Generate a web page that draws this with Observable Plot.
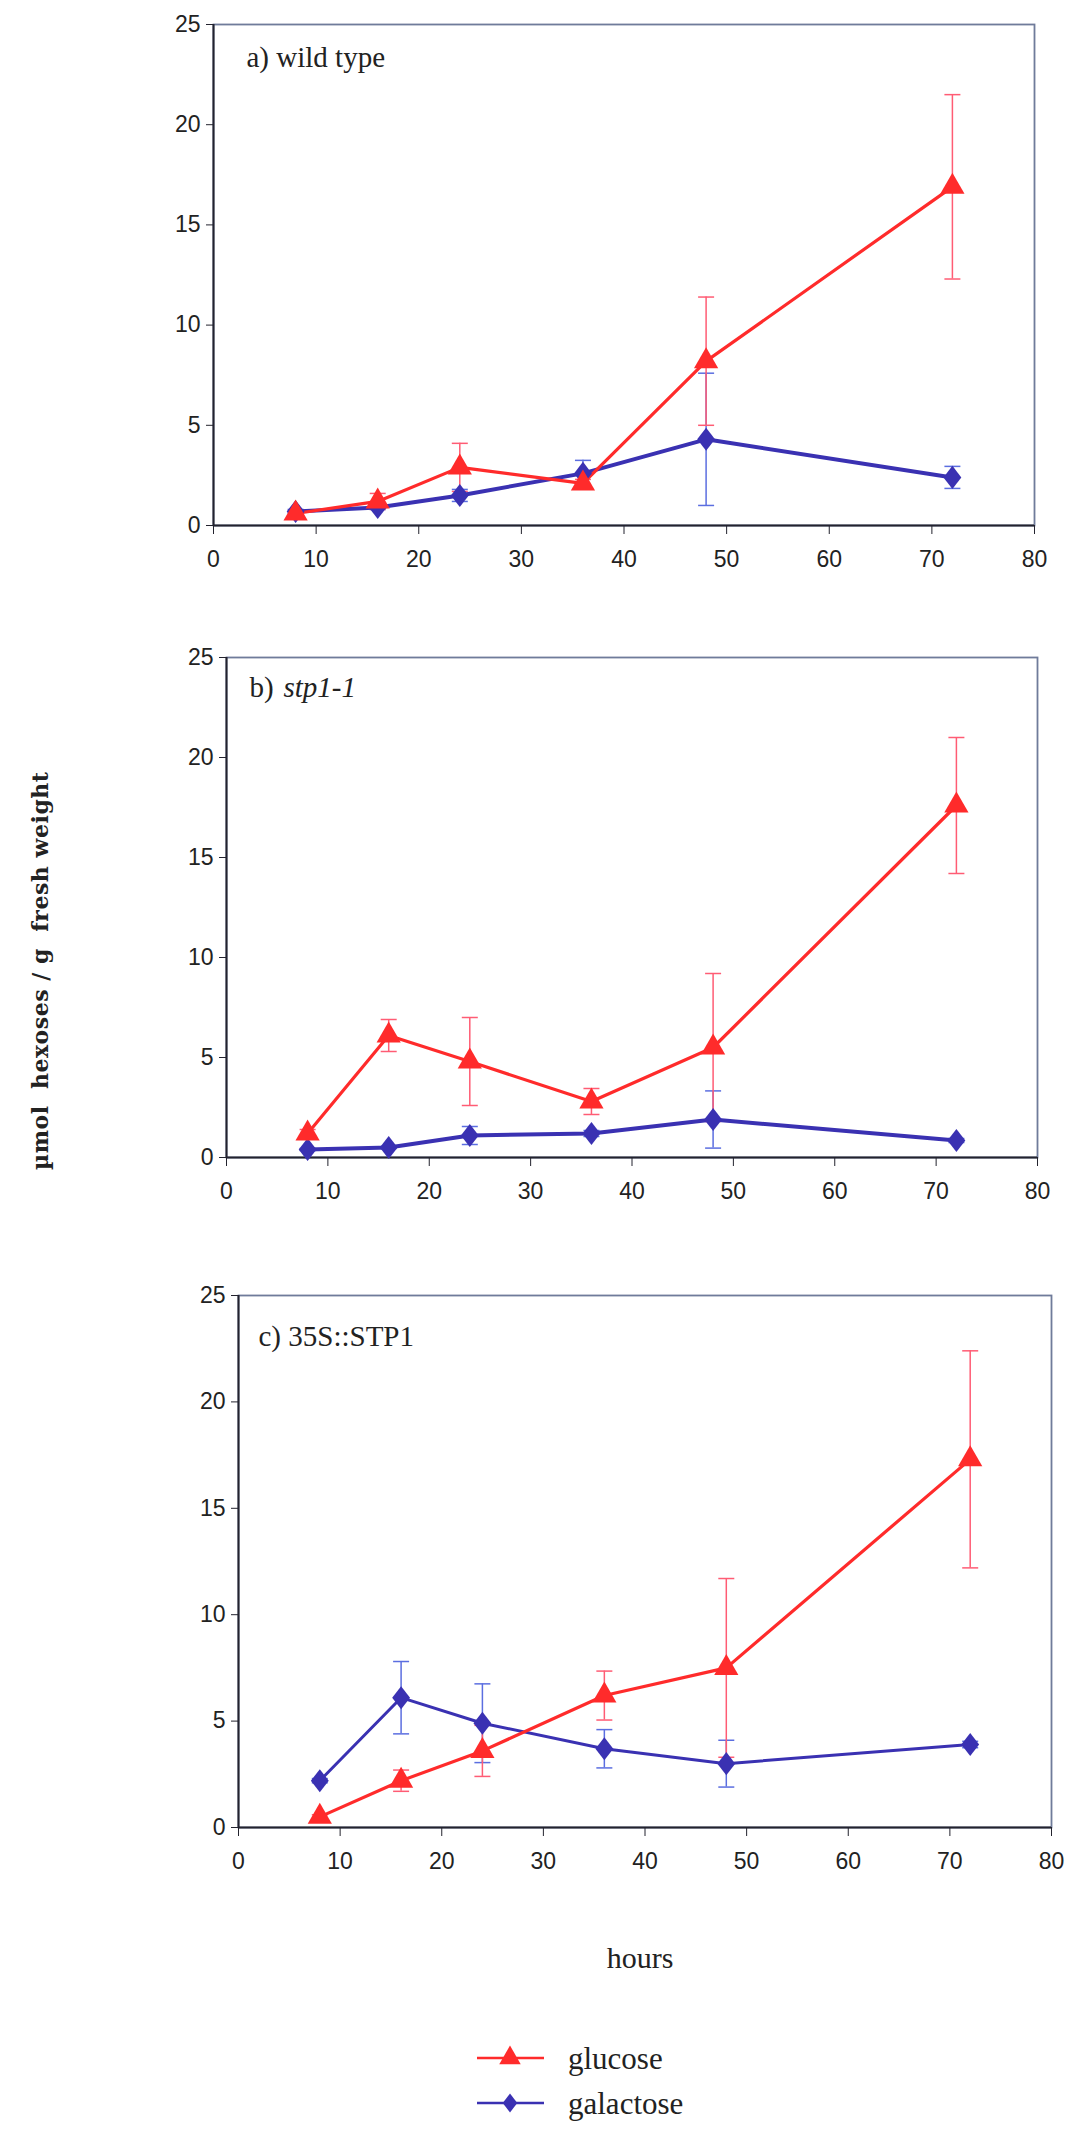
<!DOCTYPE html>
<html><head><meta charset="utf-8">
<script src="https://cdn.jsdelivr.net/npm/d3@7"></script>
<script src="https://cdn.jsdelivr.net/npm/@observablehq/plot@0.6"></script>
<style>
body{margin:0;background:#fff;}
#wrap{position:relative;width:1070px;height:2130px;background:#fff;overflow:hidden;}
#wrap svg.panel{position:absolute;left:0;}
#overlay{position:absolute;left:0;top:0;}
</style>
</head><body>
<div id="wrap"></div>
<script>
// ---- data ----
const hours = [8, 16, 24, 36, 48, 72];
const xTicks = [0, 10, 20, 30, 40, 50, 60, 70, 80];
const yTicks = [0, 5, 10, 15, 20, 25];
const seriesNames = ["glucose", "galactose"];

// a) wild type
const glucoseA    = [0.6, 1.2, 2.9, 2.1, 8.2, 16.9];
const glucoseErrA = [0.1, 0.4, 1.2, 0.2, 3.2, 4.6];
const galactoseA    = [0.7, 0.9, 1.5, 2.6, 4.3, 2.4];
const galactoseErrA = [0.1, 0.1, 0.3, 0.65, 3.3, 0.55];
// b) stp1-1
const glucoseB    = [1.2, 6.1, 4.8, 2.8, 5.5, 17.6];
const glucoseErrB = [0.2, 0.8, 2.2, 0.65, 3.7, 3.4];
const galactoseB    = [0.4, 0.5, 1.1, 1.2, 1.9, 0.85];
const galactoseErrB = [0.05, 0.05, 0.45, 0.15, 1.43, 0.1];
// c) 35S::STP1
const glucoseC    = [0.5, 2.2, 3.6, 6.2, 7.5, 17.3];
const glucoseErrC = [0.1, 0.5, 1.2, 1.15, 4.2, 5.1];
const galactoseC    = [2.2, 6.1, 4.9, 3.7, 3.0, 3.9];
const galactoseErrC = [0.1, 1.7, 1.85, 0.9, 1.1, 0.15];

const panelLabels = [["a) wild type", ""], ["b) ", "stp1-1"], ["c) 35S::STP1", ""]];
const yTitle = "µmol  hexoses / g  fresh weight";
const xTitle = "hours";

// ---- styling / layout ----
const RED = "#ff2b2b", BLUE = "#3a31b2", RED_ERR = "#ff5c74", BLUE_ERR = "#5b6ee0";
const layout = [
  {top: 0,    height: 580, mt: 24, mb: 55, ml: 213, mr: 36, lx: 33, ly: 33},
  {top: 600,  height: 620, mt: 57, mb: 63, ml: 226, mr: 33, lx: 23, ly: 30},
  {top: 1260, height: 620, mt: 35, mb: 53, ml: 238, mr: 19, lx: 20, ly: 41}
];
const data = [
  [glucoseA, glucoseErrA, galactoseA, galactoseErrA],
  [glucoseB, glucoseErrB, galactoseB, galactoseErrB],
  [glucoseC, glucoseErrC, galactoseC, galactoseErrC]
];

const diamondSym = {draw(ctx, size) {
  const s = Math.sqrt(size), w = s * 0.48, h = s * 0.62;
  ctx.moveTo(0, -h); ctx.lineTo(w, 0); ctx.lineTo(0, h); ctx.lineTo(-w, 0); ctx.closePath();
}};
const capSym = {draw(ctx, size) { ctx.moveTo(-8, 0); ctx.lineTo(8, 0); }};

const wrap = document.getElementById("wrap");

function rows(vals, errs) {
  return hours.map((h, i) => ({h, v: vals[i], lo: vals[i] - errs[i], hi: vals[i] + errs[i]}));
}

layout.forEach((L, k) => {
  const [glc, glcE, gal, galE] = data[k];
  const G = rows(glc, glcE), B = rows(gal, galE);
  const [lab1, lab2] = panelLabels[k];
  const marks = [
    Plot.frame({stroke: "#6f7b9a", strokeWidth: 1.8}),
    Plot.ruleX([0], {stroke: "#23232e", strokeWidth: 2}),
    Plot.ruleY([0], {stroke: "#23232e", strokeWidth: 2}),
    Plot.axisY({ticks: yTicks, tickSize: 7, tickPadding: 6, tickFormat: d => d, label: null, stroke: "#23232e"}),
    Plot.axisX({ticks: xTicks, tickSize: 9, tickPadding: 16, tickFormat: d => d, label: null, stroke: "#23232e"}),
    Plot.text([lab1], {frameAnchor: "top-left", dx: L.lx, dy: L.ly, lineAnchor: "middle", textAnchor: "start",
      fontFamily: "Liberation Serif", fontSize: 29, fill: "#222"}),
    // error bars
    Plot.ruleX(B, {x: "h", y1: "lo", y2: "hi", stroke: BLUE_ERR, strokeWidth: 1.5}),
    Plot.dot(B, {x: "h", y: "lo", symbol: capSym, stroke: BLUE_ERR, strokeWidth: 1.5, fill: "none"}),
    Plot.dot(B, {x: "h", y: "hi", symbol: capSym, stroke: BLUE_ERR, strokeWidth: 1.5, fill: "none"}),
    Plot.ruleX(G, {x: "h", y1: "lo", y2: "hi", stroke: RED_ERR, strokeWidth: 1.5}),
    Plot.dot(G, {x: "h", y: "lo", symbol: capSym, stroke: RED_ERR, strokeWidth: 1.5, fill: "none"}),
    Plot.dot(G, {x: "h", y: "hi", symbol: capSym, stroke: RED_ERR, strokeWidth: 1.5, fill: "none"}),
    // lines
    Plot.line(B, {x: "h", y: "v", stroke: BLUE, strokeWidth: k === 2 ? 3 : 4}),
    Plot.line(G, {x: "h", y: "v", stroke: RED, strokeWidth: 3.2}),
    Plot.dot(B, {x: "h", y: "v", symbol: diamondSym, r: 10.5, fill: BLUE, stroke: "none"}),
    Plot.dot(G, {x: "h", y: "v", symbol: "triangle", r: 9, fill: RED, stroke: "none"})
  ];
  if (lab2) marks.push(Plot.text([lab2], {frameAnchor: "top-left", dx: L.lx + 34, dy: L.ly, lineAnchor: "middle",
      textAnchor: "start", fontFamily: "Liberation Serif", fontStyle: "italic", fontSize: 29, fill: "#222"}));
  const svg = Plot.plot({
    width: 1070, height: L.height,
    marginTop: L.mt, marginBottom: L.mb, marginLeft: L.ml, marginRight: L.mr,
    x: {domain: [0, 80]},
    y: {domain: [0, 25]},
    style: {fontFamily: "Liberation Sans, Arial, sans-serif", fontSize: "23px", color: "#222", background: "transparent"},
    marks
  });
  svg.classList.add("panel");
  svg.style.top = L.top + "px";
  wrap.appendChild(svg);
});

// overlay: axis titles and legend
const ov = d3.select(wrap).append("svg").attr("id", "overlay").attr("width", 1070).attr("height", 2130);
ov.append("text").attr("transform", "translate(40,971) rotate(-90)")
  .attr("text-anchor", "middle").attr("dominant-baseline", "central")
  .attr("font-family", "DejaVu Serif").attr("font-weight", "bold").attr("font-size", 22)
  .attr("textLength", 398).attr("lengthAdjust", "spacing")
  .attr("fill", "#222").style("white-space", "pre").text(yTitle);
ov.append("text").attr("x", 640).attr("y", 1957).attr("text-anchor", "middle").attr("dominant-baseline", "central")
  .attr("font-family", "Liberation Serif").attr("font-size", 30).attr("fill", "#222").text(xTitle);

const legendItems = [
  {name: seriesNames[0], color: RED, sym: d3.symbolTriangle, size: 200, y: 2058},
  {name: seriesNames[1], color: BLUE, sym: diamondSym, size: 230, y: 2103}
];
legendItems.forEach(it => {
  ov.append("line").attr("x1", 477).attr("x2", 544).attr("y1", it.y).attr("y2", it.y)
    .attr("stroke", it.color).attr("stroke-width", 2.5);
  ov.append("path").attr("transform", `translate(510,${it.y})`)
    .attr("d", d3.symbol(it.sym, it.size)()).attr("fill", it.color);
  ov.append("text").attr("x", 568).attr("y", it.y).attr("dominant-baseline", "central")
    .attr("font-family", "Liberation Serif").attr("font-size", 31).attr("fill", "#222").text(it.name);
});
</script>
</body></html>
